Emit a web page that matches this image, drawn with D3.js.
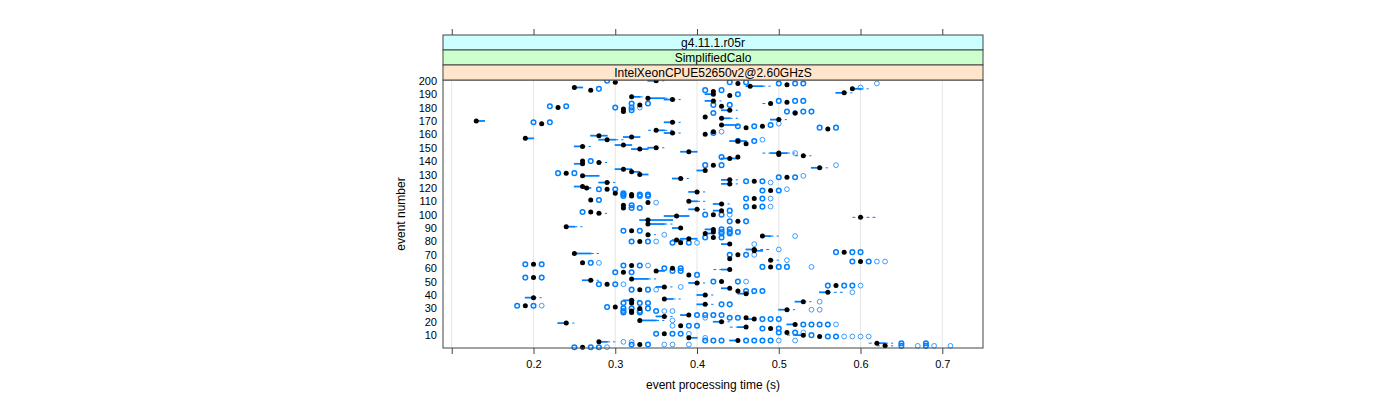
<!DOCTYPE html>
<html><head><meta charset="utf-8">
<script src="https://cdn.jsdelivr.net/npm/d3@7"></script>
<style>body{margin:0;background:#fff}text{font-family:"Liberation Sans",Arial,sans-serif}</style>
</head><body><svg id="c" width="1400" height="400"></svg>
<script>
const stripLabels = ["g4.11.1.r05r", "SimplifiedCalo", "IntelXeonCPUE52650v2@2.60GHzS"];
const xTicks = [0.1, 0.2, 0.3, 0.4, 0.5, 0.6, 0.7];
const xTickLabels = ["", "0.2", "0.3", "0.4", "0.5", "0.6", "0.7"];
const yTicks = [10,20,30,40,50,60,70,80,90,100,110,120,130,140,150,160,170,180,190,200];
const xTitle = "event processing time (s)";
const yTitle = "event number";

const events = [1,2,3,4,5,6,8,9,10,11,12,15,16,17,18,19,20,21,22,23,24,25,27,28,29,30,31,32,33,34,35,36,37,38,40,41,42,43,44,45,46,47,48,49,50,51,52,53,55,57,58,59,60,61,62,63,64,65,66,67,70,71,72,73,74,78,79,80,81,82,83,84,85,86,87,88,89,90,91,93,95,96,98,99,100,101,102,103,104,105,106,107,108,109,110,111,112,114,115,116,117,118,119,120,121,123,124,125,126,127,128,129,130,131,132,133,134,135,137,138,139,140,142,143,144,145,146,147,149,150,151,152,153,155,156,157,158,159,160,161,162,163,164,165,166,167,168,169,170,171,172,173,176,177,178,179,180,181,182,183,184,185,186,187,188,189,190,191,192,193,194,195,196,197,198,199,200];
const medians = [.26,.63,.33,.62,.28,.45,.39,.55,.53,.36,.51,.49,.46,.38,.52,.24,.43,.33,.47,.46,.36,.39,.32,.32,.51,.33,.30,.19,.41,.32,.53,.32,.36,.20,.41,.46,.56,.45,.33,.44,.36,.57,.29,.40,.43,.27,.32,.20,.39,.31,.35,.44,.37,.49,.32,.20,.26,.60,.49,.44,.45,.25,.58,.47,.47,.44,.38,.33,.375,.39,.42,.48,.34,.41,.42,.32,.42,.38,.24,.34,.45,.34,.60,.375,.42,.28,.27,.43,.40,.31,.47,.31,.43,.34,.39,.27,.47,.32,.32,.30,.40,.49,.29,.265,.26,.44,.29,.47,.44,.38,.51,.26,.33,.24,.32,.41,.31,.55,.42,.26,.28,.26,.44,.45,.53,.50,.50,.39,.33,.35,.26,.31,.46,.45,.29,.19,.32,.28,.41,.37,.42,.35,.56,.46,.48,.43,.21,.37,.13,.50,.43,.41,.52,.31,.44,.31,.23,.43,.33,.49,.51,.42,.37,.34,.32,.44,.42,.58,.42,.27,.59,.25,.465,.51,.45,.30,.35];
const q1 = [.26,.63,.33,.62,.28,.44,.39,.55,.52,.36,.51,.49,.45,.38,.51,.23,.42,.33,.46,.46,.35,.38,.32,.32,.50,.33,.30,.19,.40,.32,.52,.31,.36,.19,.40,.45,.55,.45,.33,.43,.35,.57,.29,.39,.43,.26,.32,.20,.39,.31,.35,.43,.37,.49,.32,.20,.26,.60,.49,.44,.45,.25,.58,.47,.46,.43,.38,.33,.37,.38,.42,.48,.34,.41,.42,.32,.41,.37,.24,.34,.45,.33,.60,.36,.42,.28,.27,.42,.39,.31,.47,.31,.42,.34,.39,.27,.47,.32,.32,.30,.39,.49,.29,.26,.25,.43,.28,.47,.43,.37,.51,.26,.33,.24,.32,.40,.30,.54,.42,.25,.28,.26,.43,.45,.53,.50,.49,.38,.32,.34,.25,.30,.46,.44,.28,.19,.31,.27,.41,.36,.42,.35,.56,.46,.48,.43,.21,.36,.13,.49,.43,.41,.52,.31,.43,.31,.23,.43,.33,.49,.51,.41,.36,.34,.32,.44,.41,.57,.42,.27,.59,.25,.46,.51,.45,.30,.34];
const q3 = [.26,.63,.33,.63,.29,.45,.40,.55,.53,.36,.51,.49,.46,.38,.52,.24,.43,.35,.47,.46,.36,.39,.32,.32,.51,.33,.30,.19,.41,.32,.53,.32,.37,.20,.41,.46,.56,.45,.33,.44,.36,.57,.29,.40,.43,.27,.34,.20,.39,.31,.36,.44,.37,.49,.32,.20,.26,.60,.49,.44,.45,.27,.58,.48,.47,.44,.38,.33,.38,.40,.42,.49,.34,.42,.42,.32,.42,.38,.25,.36,.45,.37,.60,.39,.42,.28,.27,.43,.40,.31,.47,.31,.43,.34,.40,.27,.47,.32,.32,.30,.40,.49,.29,.27,.26,.44,.29,.47,.44,.38,.51,.28,.34,.24,.33,.41,.32,.55,.42,.26,.28,.26,.45,.45,.53,.50,.51,.40,.34,.35,.26,.32,.46,.46,.30,.20,.33,.29,.41,.37,.42,.36,.56,.46,.48,.45,.21,.37,.14,.50,.44,.41,.52,.31,.44,.31,.23,.43,.33,.49,.51,.42,.37,.36,.33,.44,.42,.58,.42,.27,.60,.26,.48,.51,.45,.30,.35];
const whiskLo = [.26,.62,.33,.61,.28,.44,.39,.55,.51,.36,.51,.49,.44,.38,.51,.23,.42,.33,.46,.46,.35,.38,.32,.32,.50,.33,.30,.19,.40,.32,.52,.31,.36,.19,.40,.45,.55,.45,.33,.43,.35,.57,.29,.39,.43,.26,.32,.20,.39,.31,.35,.42,.37,.49,.32,.20,.26,.60,.49,.44,.45,.25,.58,.47,.46,.43,.38,.33,.37,.38,.42,.48,.34,.41,.42,.32,.41,.37,.24,.34,.45,.33,.59,.36,.42,.28,.27,.42,.39,.31,.47,.31,.42,.34,.39,.27,.47,.32,.32,.30,.39,.49,.29,.26,.25,.43,.28,.47,.43,.37,.51,.26,.33,.24,.32,.40,.30,.54,.42,.25,.28,.26,.43,.45,.52,.50,.48,.38,.32,.34,.25,.30,.46,.44,.28,.19,.31,.27,.41,.36,.42,.34,.56,.46,.48,.43,.21,.36,.13,.49,.43,.41,.52,.31,.43,.31,.23,.43,.33,.48,.51,.41,.36,.34,.32,.44,.41,.57,.42,.27,.59,.25,.46,.51,.45,.30,.34];
const whiskHi = [.26,.64,.33,.64,.30,.45,.40,.55,.53,.36,.51,.49,.46,.38,.52,.25,.44,.36,.47,.46,.37,.39,.32,.32,.52,.33,.30,.19,.42,.32,.54,.33,.38,.21,.42,.47,.58,.45,.33,.44,.37,.57,.29,.41,.43,.28,.35,.20,.39,.31,.36,.44,.37,.49,.32,.20,.26,.60,.50,.44,.45,.28,.58,.48,.49,.44,.38,.33,.39,.40,.42,.50,.35,.42,.42,.32,.42,.38,.26,.37,.45,.37,.62,.39,.42,.29,.27,.43,.41,.31,.47,.31,.44,.34,.41,.27,.47,.32,.32,.30,.41,.49,.29,.27,.26,.45,.30,.47,.45,.39,.51,.28,.34,.24,.33,.41,.32,.56,.42,.26,.29,.26,.45,.45,.54,.50,.52,.40,.34,.36,.27,.32,.46,.46,.31,.20,.33,.29,.41,.38,.42,.37,.56,.46,.48,.45,.21,.38,.14,.51,.45,.41,.52,.31,.45,.31,.23,.43,.33,.49,.51,.43,.38,.37,.34,.44,.42,.59,.42,.27,.61,.26,.49,.51,.45,.30,.36];
const outliers = [[.25,.27,.28],[.65,.68],[.32,.34],[.65,.68],[],[.41,.42,.43,.46,.47,.48,.49],[],[.56,.57],[.54],[.35,.37,.38],[.50,.52],[.48,.50],[],[.39,.40],[.53,.54,.55,.56],[],[],[],[.48,.49,.50],[.44,.45],[],[.40,.41,.42,.43],[.31,.33],[.31,.33,.35],[],[.31,.32,.34],[.29],[.18,.20],[.43,.44],[.31,.33,.34],[],[],[],[],[],[],[],[.46,.47,.48],[.32,.34],[],[],[.56,.58,.59],[.28,.30],[],[.42,.45],[],[],[.19,.21],[.40],[.30,.32],[.37,.38],[],[.36,.38],[.48,.50,.51],[.31,.33],[.19,.21],[.27],[.59,.61],[],[],[.44,.46],[],[.57,.59,.60],[],[],[],[.37,.39],[.32,.34],[],[],[.41,.43],[],[],[.43,.44],[.43,.44,.45],[.31,.33],[.43,.44],[],[],[],[.44,.46],[],[],[],[.41,.43],[],[.26],[.44],[],[.32,.33],[.46,.48],[.32],[],[],[],[.28],[.46,.48],[.31,.33,.34],[.31,.33,.34],[.31],[],[.48,.50],[.28,.30],[],[],[],[],[.46,.48],[],[],[.50,.52],[],[],[.23,.25],[],[],[],[],[.41,.43],[],[],[.27],[],[.43],[],[],[],[],[],[],[],[],[],[.45,.47],[],[],[],[],[],[.42],[],[],[],[.55,.57],[.45,.47],[.49],[],[.20,.22],[],[],[],[],[.42],[.51,.53,.54],[.32],[],[.30,.32],[.22,.24],[.42,.44],[.32,.34],[],[.50,.52,.53],[],[],[],[],[.45],[],[],[.41,.43],[.28],[],[],[],[.50,.52,.53],[.44,.46],[.29],[]];
const outliersThin = [[.29],[.67,.69,.71],[.36,.37,.39],[],[.31,.32],[.50,.52],[.41],[.58,.59,.60,.61],[],[.39],[.53],[],[],[.37],[.57],[],[],[.37],[],[.41],[],[],[],[.36,.37],[.54,.55],[],[],[.21],[],[],[.55],[],[],[],[],[],[.59],[],[.35],[],[.38],[.60],[.31],[],[.46],[],[],[],[],[],[],[],[],[.54],[.34],[],[.28],[.62,.63],[.51],[],[.47],[],[],[],[.50],[.47],[.40],[.35],[],[],[],[.52],[.36],[],[],[],[],[],[],[],[],[],[],[],[.44],[],[],[],[],[],[.49],[],[],[.35],[],[],[.49],[],[],[],[],[],[.51],[],[],[],[.49],[],[],[],[],[.53],[],[],[],[],[],[],[.57],[],[],[],[],[],[],[],[.52],[],[],[],[],[],[],[],[.48],[],[],[],[],[],[.43],[],[],[],[],[],[.50],[],[],[],[],[],[.52],[],[],[],[.33],[],[],[],[],[],[],[],[],[],[],[],[],[],[],[.60],[],[],[.62],[],[],[],[],[],[]];

const svg = d3.select("#c");
const L = 443, R = 983, T = 80, B = 348, stripH = 15;
const x = d3.scaleLinear().domain([0.0893, 0.7498]).range([L, R]);
const y = d3.scaleLinear().domain([0.4, 200.6]).range([B, T]);
const unit = Math.abs(y(1) - y(0));
const blue = "#0080ff";

// grid
svg.append("g").selectAll("line").data(xTicks).join("line")
  .attr("x1", d => x(d)).attr("x2", d => x(d)).attr("y1", T).attr("y2", B)
  .attr("stroke", "#e6e6e6").attr("stroke-width", 1);

const rows = events.map((e, i) => ({e, m: medians[i], q1: q1[i], q3: q3[i], lo: whiskLo[i], hi: whiskHi[i], out: outliers[i], outT: outliersThin[i]}));

const gData = svg.append("g");
const bh = unit * 0.5;
// whiskers and boxes
rows.forEach(r => {
  const cy = y(r.e);
  if (r.lo < r.q1) gData.append("line").attr("x1", x(r.lo)).attr("x2", x(r.q1)).attr("y1", cy).attr("y2", cy)
    .attr("stroke", blue).attr("stroke-dasharray", "3,3").attr("stroke-width", 1);
  if (r.hi > r.q3) gData.append("line").attr("x1", x(r.q3)).attr("x2", x(r.hi)).attr("y1", cy).attr("y2", cy)
    .attr("stroke", blue).attr("stroke-dasharray", "3,3").attr("stroke-width", 1);
  if (r.q3 > r.q1) gData.append("rect").attr("x", x(r.q1)).attr("width", x(r.q3) - x(r.q1))
    .attr("y", cy - bh / 2).attr("height", bh).attr("fill", "none").attr("stroke", blue).attr("stroke-width", 1.1);
});
// outliers
rows.forEach(r => {
  const cy = y(r.e);
  r.outT.forEach(v => gData.append("circle").attr("cx", x(v)).attr("cy", cy).attr("r", 2.4)
    .attr("fill", "none").attr("stroke", blue).attr("stroke-width", 0.9).attr("stroke-opacity", 0.85));
  r.out.forEach(v => gData.append("circle").attr("cx", x(v)).attr("cy", cy).attr("r", 2.3)
    .attr("fill", "none").attr("stroke", blue).attr("stroke-width", 1.5));
});
// medians
gData.selectAll("circle.med").data(rows).join("circle").attr("class", "med")
  .attr("cx", d => x(d.m)).attr("cy", d => y(d.e)).attr("r", 2.5).attr("fill", "#000");

// panel frame
svg.append("rect").attr("x", L).attr("y", T).attr("width", R - L).attr("height", B - T)
  .attr("fill", "none").attr("stroke", "#444").attr("stroke-width", 1);

// strips
const stripFill = ["#ccffff", "#ccffcc", "#ffe5cc"];
stripLabels.forEach((s, i) => {
  const sy = T - stripH * (3 - i);
  svg.append("rect").attr("x", L).attr("y", sy).attr("width", R - L).attr("height", stripH)
    .attr("fill", stripFill[i]).attr("stroke", "#444").attr("stroke-width", 1);
  svg.append("text").attr("x", (L + R) / 2).attr("y", sy + stripH / 2 + 4.5).attr("text-anchor", "middle")
    .attr("font-size", 12).attr("fill", "#000").text(s);
});

// axes
const axB = d3.axisBottom(x).tickValues(xTicks).tickSize(6).tickPadding(6)
  .tickFormat((d, i) => xTickLabels[i]);
const gb = svg.append("g").attr("transform", `translate(0,${B})`).call(axB);
gb.select(".domain").remove();
gb.selectAll("line").attr("stroke", "#444");
gb.selectAll("text").attr("font-size", 11).attr("fill", "#000").style("font-family", "Liberation Sans, Arial, sans-serif");

const topY = T - stripH * 3;
const axT = d3.axisTop(x).tickValues(xTicks).tickSize(6).tickFormat("");
const gt = svg.append("g").attr("transform", `translate(0,${topY})`).call(axT);
gt.select(".domain").remove();
gt.selectAll("line").attr("stroke", "#444");

const axL = d3.axisLeft(y).tickValues(yTicks).tickSize(0).tickPadding(6);
const gl = svg.append("g").attr("transform", `translate(${L},0)`).call(axL);
gl.select(".domain").remove();
gl.selectAll("text").attr("font-size", 11).attr("fill", "#000").style("font-family", "Liberation Sans, Arial, sans-serif");

svg.append("text").attr("x", (L + R) / 2).attr("y", 389).attr("text-anchor", "middle")
  .attr("font-size", 12).text(xTitle);
svg.append("text").attr("transform", `translate(405,${(T + B) / 2}) rotate(-90)`).attr("text-anchor", "middle")
  .attr("font-size", 12).text(yTitle);
</script></body></html>
